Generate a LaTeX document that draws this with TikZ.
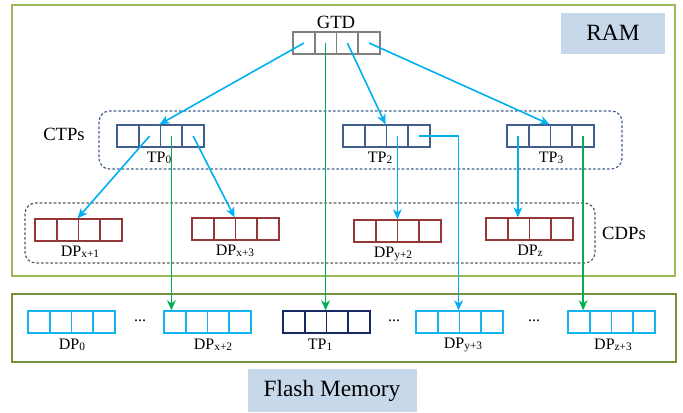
\documentclass[tikz,border=0pt]{standalone}
\usepackage{fontspec}
\setmainfont{Liberation Serif}
\usetikzlibrary{arrows.meta}

\definecolor{ramgreen}{RGB}{155,187,89}
\definecolor{flashgreen}{RGB}{118,146,60}
\definecolor{tagblue}{RGB}{200,216,235}
\definecolor{gtdgray}{RGB}{128,128,128}
\definecolor{tpblue}{RGB}{65,95,140}
\definecolor{dpred}{RGB}{150,55,55}
\definecolor{flashcyan}{RGB}{20,180,240}
\definecolor{tpnavy}{RGB}{25,40,100}
\definecolor{arrblue}{RGB}{0,176,240}
\definecolor{arrgreen}{RGB}{0,176,80}

\tikzset{every picture/.style={line width=0.75pt}}
\tikzset{
  cell/.style={draw, minimum width=16.3pt, minimum height=16.1pt, inner sep=0pt, line width=1.4pt},
  bluearr/.style={draw=arrblue, line width=1.2pt, -{Stealth[length=7.5pt,width=6.5pt,inset=2.2pt]}},
  greenarr/.style={draw=arrgreen, line width=1.2pt, -{Stealth[length=7.5pt,width=6.5pt,inset=2.2pt]}},
  lbl/.style={font=\fontsize{12}{14}\selectfont, inner sep=0pt},
  grouplbl/.style={font=\fontsize{14}{16}\selectfont, inner sep=0pt},
  taglbl/.style={font=\fontsize{17.5}{20}\selectfont, inner sep=0pt},
  groupbox/.style={line width=0.9pt, dash pattern=on 2pt off 1.5pt, rounded corners=8pt}
}
\newcommand{\lsub}[1]{\raisebox{-0.15ex}{\fontsize{8.5}{9}\selectfont #1}}
% row of four cells: name, left x, centre y, colour
\newcommand{\cellrow}[4]{%
  \foreach \i in {1,...,4}
    \node [cell, draw=#4] (#1-\i) at ({#2+21.75*\i-10.875},#3) {};
}

\begin{document}
\begin{tikzpicture}[x=0.75pt,y=0.75pt,yscale=-1,xscale=1]
\useasboundingbox (0,0) rectangle (683,412);

%Shape: Rectangle [RAM]
\draw [draw=ramgreen, line width=2pt] (12,5) -- (675,5) -- (675,276) -- (12,276) -- cycle ;
%Shape: Rectangle [Flash]
\draw [draw=flashgreen, line width=2pt] (12,294) -- (676,294) -- (676,362) -- (12,362) -- cycle ;
%Shape: Rectangle [tags]
\fill [tagblue] (561,13) rectangle (665,54) ;
\fill [tagblue] (248,369) rectangle (417,412) ;

%Dashed groups
\draw [groupbox, draw=tpblue] (99,111) rectangle (622,169) ;
\draw [groupbox, draw=black!65] (25,203) rectangle (595,263) ;

%Cells
\cellrow{gtd}{293}{43}{gtdgray}
\cellrow{tp0}{117}{136}{tpblue}
\cellrow{tp2}{343}{136}{tpblue}
\cellrow{tp3}{507}{136}{tpblue}
\cellrow{dpx1}{35}{230}{dpred}
\cellrow{dpx3}{192}{229}{dpred}
\cellrow{dpy2}{354}{231}{dpred}
\cellrow{dpz}{486}{229}{dpred}
\cellrow{dp0}{28}{322}{flashcyan}
\cellrow{dpx2}{164}{322}{flashcyan}
\cellrow{tp1}{283}{322}{tpnavy}
\cellrow{dpy3}{416}{322}{flashcyan}
\cellrow{dpz3}{568}{322}{flashcyan}

%Arrows from GTD
\draw [bluearr] (gtd-1.center) -- (tp0-3.north west) ;
\draw [bluearr] (gtd-3.center) -- (tp2-3.north west) ;
\draw [bluearr] (gtd-4.center) -- (tp3-3.north west) ;
\draw [greenarr] (gtd-2.center) -- (gtd-2.center |- tp1-3.north) ;

%Arrows from TP0
\draw [bluearr] (tp0-2.center) -- (dpx1-3.north west) ;
\draw [bluearr] (tp0-4.center) -- (dpx3-3.north west) ;
\draw [greenarr] (tp0-3.center) -- (tp0-3.center |- dpx2-1.north) ;

%Arrows from TP2
\draw [bluearr] (tp2-3.center) -- (tp2-3.center |- dpy2-3.north) ;
\draw [bluearr] (tp2-4.center) -| (dpy3-3.north west) ;

%Arrows from TP3
\draw [bluearr] (tp3-1.center) -- (tp3-1.center |- dpz-2.north) ;
\draw [greenarr] (tp3-4.center) -- (tp3-4.center |- dpz3-2.north) ;

% Text Node
\draw (613,33) node [taglbl] (ram) {RAM};
\draw (332,391) node [taglbl] (flash) {Flash Memory};
\draw (336,22) node [grouplbl] (gtdname) {GTD};
\draw (64,134) node [grouplbl] (ctps) {CTPs};
\draw (624,233) node [grouplbl] (cdps) {CDPs};
% Text Node
\draw (159,158) node [lbl] (tp0name) {TP\lsub{0}};
\draw (380,158) node [lbl] (tp2name) {TP\lsub{2}};
\draw (551,158) node [lbl] (tp3name) {TP\lsub{3}};
\draw (80,252) node [lbl] (dpx1name) {DP\lsub{x+1}};
\draw (235,251) node [lbl] (dpx3name) {DP\lsub{x+3}};
\draw (393,254) node [lbl] (dpy2name) {DP\lsub{y+2}};
\draw (530,251) node [lbl] (dpzname) {DP\lsub{z}};
% Text Node
\draw (72,345) node [lbl] (dp0name) {DP\lsub{0}};
\draw (213,345) node [lbl] (dpx2name) {DP\lsub{x+2}};
\draw (320,345) node [lbl] (tp1name) {TP\lsub{1}};
\draw (463,345) node [lbl] (dpy3name) {DP\lsub{y+3}};
\draw (613,345) node [lbl] (dpz3name) {DP\lsub{z+3}};
% Text Node
\draw (140,321) node [lbl] (dotsa) {...};
\draw (394,321) node [lbl] (dotsb) {...};
\draw (534,321) node [lbl] (dotsc) {...};

\end{tikzpicture}
\end{document}
